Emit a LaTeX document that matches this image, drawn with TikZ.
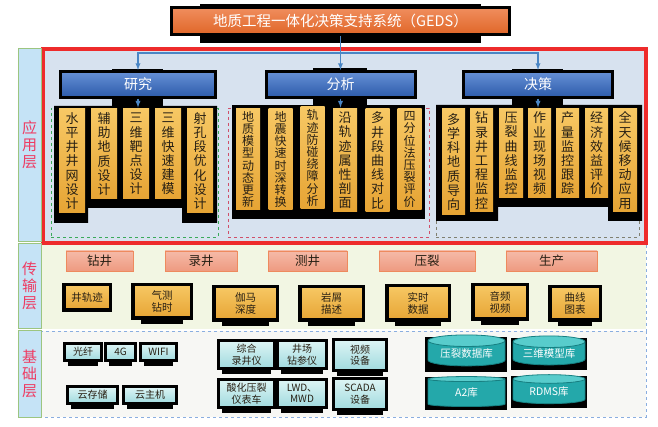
\documentclass[tikz,border=0pt]{standalone}
\usepackage{fontspec}
\setmainfont{Noto Sans CJK SC}
\usetikzlibrary{shapes.geometric}
\usetikzlibrary{arrows}
\definecolor{gedsTop}{RGB}{240,142,94}
\definecolor{gedsBot}{RGB}{224,102,40}
\definecolor{blueTop}{RGB}{102,144,214}
\definecolor{blueBot}{RGB}{44,91,170}
\definecolor{goldTop}{RGB}{247,200,100}
\definecolor{goldBot}{RGB}{230,164,52}
\definecolor{pinkTop}{RGB}{245,186,168}
\definecolor{pinkBot}{RGB}{238,154,128}
\definecolor{pinkLine}{RGB}{238,138,94}
\definecolor{tealTop}{RGB}{222,245,245}
\definecolor{tealBot}{RGB}{160,218,222}
\definecolor{cylBody}{RGB}{36,168,170}
\definecolor{cylEnd}{RGB}{88,204,204}
\definecolor{cylLine}{RGB}{22,128,130}
\definecolor{appbg}{RGB}{215,226,239}
\definecolor{transbg}{RGB}{242,246,227}
\definecolor{foundbg}{RGB}{247,247,244}
\definecolor{stripfill}{RGB}{197,227,246}
\definecolor{stripline}{RGB}{156,197,128}
\definecolor{layerred}{RGB}{238,59,98}
\definecolor{redline}{RGB}{238,43,43}
\definecolor{bluedash}{RGB}{138,174,224}
\definecolor{linkblue}{RGB}{74,134,197}
\definecolor{grpgreen}{RGB}{59,170,90}
\definecolor{grpred}{RGB}{208,80,106}
\definecolor{grpgray}{RGB}{128,128,112}
\definecolor{txtdark}{RGB}{40,32,20}
\tikzstyle{strip}=[draw=stripline,fill=stripfill,minimum width=23pt,inner sep=0pt,text=layerred,align=center,font=\fontsize{15}{17}\selectfont]
\tikzstyle{grp}=[dashed,inner sep=0pt,line width=0.8pt]
\tikzstyle{titlebox}=[draw=black,line width=3pt,top color=gedsTop,bottom color=gedsBot,text=white,inner sep=0pt,font=\fontsize{14.5}{16}\selectfont]
\tikzstyle{bluebox}=[draw=black,line width=3pt,top color=blueTop,bottom color=blueBot,text=white,inner sep=0pt,minimum width=149pt,minimum height=26pt,font=\fontsize{14}{16}\selectfont]
\tikzstyle{vbox}=[top color=goldTop,bottom color=goldBot,text=txtdark,inner sep=0pt,align=center,minimum width=24pt,font=\fontsize{13}{14.2}\selectfont]
\tikzstyle{vboxs}=[vbox,font=\fontsize{12}{12.2}\selectfont]
\tikzstyle{pinkbox}=[draw=pinkLine,top color=pinkTop,bottom color=pinkBot,minimum height=20pt,inner sep=0pt,text=txtdark,font=\fontsize{12.5}{14}\selectfont]
\tikzstyle{mon}=[draw=black,line width=3.5pt,top color=goldTop,bottom color=goldBot,inner sep=0pt,align=center,text=txtdark,font=\fontsize{10.5}{12}\selectfont]
\tikzstyle{tmon}=[mon,line width=3pt,top color=tealTop,bottom color=tealBot,font=\fontsize{10}{11.5}\selectfont]
\tikzstyle{dback}=[fill=black,inner sep=0pt]
\tikzstyle{dbase}=[cylinder,shape border rotate=90,aspect=0.22,cylinder uses custom fill,cylinder body fill=cylBody,cylinder end fill=cylEnd,draw=cylLine,line width=0.8pt,text=white,inner sep=0pt,font=\fontsize{10.5}{12}\selectfont]
\tikzstyle{link}=[draw=linkblue,line width=1.3pt,-latex]

\begin{document}
\begin{tikzpicture}[x=1pt,y=-1pt]
	\useasboundingbox (0,0) rectangle (658,427);
	% layer areas
	\fill[transbg] (41,245) rectangle (646,329);
	\draw[bluedash,dashed,line width=0.8pt] (646,245) -- (646,331);
	\filldraw[fill=foundbg,draw=bluedash,dashed,line width=0.8pt] (41,331) rectangle (646,417);
	\filldraw[fill=appbg,draw=redline,line width=4pt] (43,49) rectangle (646,243);
	\node[strip,minimum height=193pt] (sapp) at (29.5,144.5) {应\\用\\层};
	\node[strip,minimum height=85pt] (strans) at (29.5,285.5) {传\\输\\层};
	\node[strip,minimum height=87pt] (sfound) at (29.5,373.5) {基\\础\\层};
	% groups
	\node[grp,draw=grpgreen,minimum width=167pt,minimum height=129pt] (gyj) at (134.5,172.5) {};
	\node[grp,draw=grpred,minimum width=201pt,minimum height=129pt] (gfx) at (328.5,172.5) {};
	\node[grp,draw=grpgray,minimum width=203pt,minimum height=129pt] (gjc) at (537.5,172.5) {};
	% black backs
	\fill[black] (200,4) rectangle (481,43);
	\fill[black] (112,69) rectangle (163,108);
	\fill[black] (313,68) rectangle (367,107);
	\fill[black] (512,69) rectangle (563,108);
	\fill[black] (54,106) -- (217,106) -- (217,223) -- (182,223) -- (182,208) -- (88,208) -- (88,223) -- (54,223) -- cycle;
	\fill[black] (232,105) rectangle (425,219);
	\fill[black] (436,105) -- (642,105) -- (642,221) -- (608,221) -- (608,207) -- (498,207) -- (498,221) -- (436,221) -- cycle;
	% top
	\node[titlebox,minimum width=338pt,minimum height=27pt] (geds) at (340.5,21) {地质工程一体化决策支持系统（GEDS）};
	\node[bluebox,minimum width=155pt] (yj) at (138,84.5) {研究};
	\node[bluebox] (fx) at (340.5,84.5) {分析};
	\node[bluebox] (jc) at (538,84.5) {决策};
	% research
	\node[vbox,minimum width=26pt,minimum height=104pt] (a1) at (72,161) {水\\平\\井\\井\\网\\设\\计};
	\node[vbox,minimum width=26pt,minimum height=90pt] (a2) at (104,154) {辅\\助\\地\\质\\设\\计};
	\node[vbox,minimum width=26pt,minimum height=90pt] (a3) at (136,154) {三\\维\\靶\\点\\设\\计};
	\node[vbox,minimum width=26pt,minimum height=90pt] (a4) at (168,154) {三\\维\\快\\速\\建\\模};
	\node[vbox,minimum width=26pt,minimum height=104pt] (a5) at (200,161) {射\\孔\\段\\优\\化\\设\\计};
	% analysis
	\node[vboxs,minimum height=101pt] (b1) at (248,159.5) {地\\质\\模\\型\\动\\态\\更\\新};
	\node[vboxs,minimum height=101pt] (b2) at (280.5,159.5) {地\\震\\快\\速\\时\\深\\转\\换};
	\node[vboxs,minimum height=102pt] (b3) at (312.5,158) {轨\\迹\\防\\碰\\绕\\障\\分\\析};
	\node[vbox,minimum height=103pt] (b4) at (345,160.5) {沿\\轨\\迹\\属\\性\\剖\\面};
	\node[vbox,minimum height=103pt] (b5) at (377.5,160.5) {多\\井\\段\\曲\\线\\对\\比};
	\node[vboxs,minimum height=101pt] (b6) at (409.5,159.5) {四\\分\\位\\法\\压\\裂\\评\\价};
	% decision
	\node[vbox,minimum width=23pt,minimum height=106pt] (c1) at (453.5,162) {多\\学\\科\\地\\质\\导\\向};
	\node[vbox,minimum width=23pt,minimum height=103pt] (c2) at (481.5,160.5) {钻\\录\\井\\工\\程\\监\\控};
	\node[vbox,minimum width=24pt,minimum height=89pt] (c3) at (511,153.5) {压\\裂\\曲\\线\\监\\控};
	\node[vbox,minimum width=23pt,minimum height=89pt] (c4) at (539.5,153.5) {作\\业\\现\\场\\视\\频};
	\node[vbox,minimum width=23pt,minimum height=89pt] (c5) at (567.5,153.5) {产\\量\\监\\控\\跟\\踪};
	\node[vbox,minimum width=23pt,minimum height=89pt] (c6) at (596.5,153.5) {经\\济\\效\\益\\评\\价};
	\node[vbox,minimum width=24pt,minimum height=103pt] (c7) at (625,160.5) {全\\天\\候\\移\\动\\应\\用};
	% transmission
	\node[pinkbox,minimum width=67pt] (p1) at (99.5,261) {钻井};
	\node[pinkbox,minimum width=72pt] (p2) at (201,261) {录井};
	\node[pinkbox,minimum width=79pt] (p3) at (307.5,261) {测井};
	\node[pinkbox,minimum width=96pt] (p4) at (427,261) {压裂};
	\node[pinkbox,minimum width=91pt] (p5) at (551.5,261) {生产};
	\node[mon,minimum width=46.5pt,minimum height=25.5pt] (t1) at (87,297.5) {井轨迹};
	\node[mon,minimum width=58.5pt,minimum height=33.5pt] (t2) at (162,301.5) {气测\\钻时};
	\node[mon,minimum width=63.5pt,minimum height=33.5pt] (t3) at (245.5,303.5) {伽马\\深度};
	\node[mon,minimum width=63.5pt,minimum height=33.5pt] (t4) at (331.5,303.5) {岩屑\\描述};
	\node[mon,minimum width=62.5pt,minimum height=34.5pt] (t5) at (418,303) {实时\\数据};
	\node[mon,minimum width=54.5pt,minimum height=34.5pt] (t6) at (500,302) {音频\\视频};
	\node[mon,minimum width=50.5pt,minimum height=33.5pt] (t7) at (575,303.5) {曲线\\图表};
	\foreach \n in {t2,t3,t4,t5,t6,t7}
		\fill[black] ([xshift=10pt]\n.south west) rectangle ([xshift=-10pt,yshift=-4pt]\n.south east);
	% foundation
	\node[tmon,minimum width=37pt,minimum height=17pt] (f1) at (83,352) {光纤};
	\node[tmon,minimum width=30pt,minimum height=17pt] (f2) at (120.5,352) {4G};
	\node[tmon,minimum width=36pt,minimum height=17pt] (f3) at (158.5,352) {WIFI};
	\node[tmon,minimum width=50pt,minimum height=17pt] (f4) at (92.5,395) {云存储};
	\node[tmon,minimum width=53pt,minimum height=17pt] (f5) at (150,395) {云主机};
	\node[tmon,minimum width=56pt,minimum height=28pt] (f6) at (246.5,354.5) {综合\\录井仪};
	\node[tmon,minimum width=49pt,minimum height=28pt] (f7) at (302,354.5) {井场\\钻参仪};
	\node[tmon,minimum width=56pt,minimum height=28pt] (f8) at (246.5,393.5) {酸化压裂\\仪表车};
	\node[tmon,minimum width=49pt,minimum height=28pt] (f9) at (302,393.5) {LWD、\\MWD};
	\node[tmon,minimum width=53pt,minimum height=31pt] (f10) at (360,355) {视频\\设备};
	\node[tmon,minimum width=53pt,minimum height=31pt] (f11) at (360,394) {SCADA\\设备};
	\foreach \n in {f1,f2,f3,f4,f5,f6,f7,f8,f9,f10,f11}
		\fill[black] ([xshift=5pt]\n.south west) rectangle ([xshift=-5pt,yshift=-4pt]\n.south east);
	\node[dback,minimum width=82pt,minimum height=35pt] (k1) at (466,354.5) {};
	\node[dback,minimum width=76pt,minimum height=32pt] (k2) at (549,354) {};
	\node[dback,minimum width=82pt,minimum height=33pt] (k3) at (466,393.5) {};
	\node[dback,minimum width=76pt,minimum height=32pt] (k4) at (549,392) {};
	\node[dbase,minimum width=77pt,minimum height=31pt] (d1) at (466.5,353.5) {压裂数据库};
	\node[dbase,minimum width=72pt,minimum height=29pt] (d2) at (549,353.5) {三维模型库};
	\node[dbase,minimum width=77pt,minimum height=30pt] (d3) at (466.5,393) {A2库};
	\node[dbase,minimum width=72pt,minimum height=29pt] (d4) at (549,391.5) {RDMS库};
	% links
	\coordinate (hub) at (340.5,53);
	\draw[link] (geds) -- (fx);
	\draw[link] (hub) -| (yj);
	\draw[link] (hub) -| (jc);
	\draw[link] (yj) -- (yj |- gyj.north);
	\draw[link] (fx) -- (fx |- gfx.north);
	\draw[link] (jc) -- (jc |- gjc.north);
\end{tikzpicture}
\end{document}
